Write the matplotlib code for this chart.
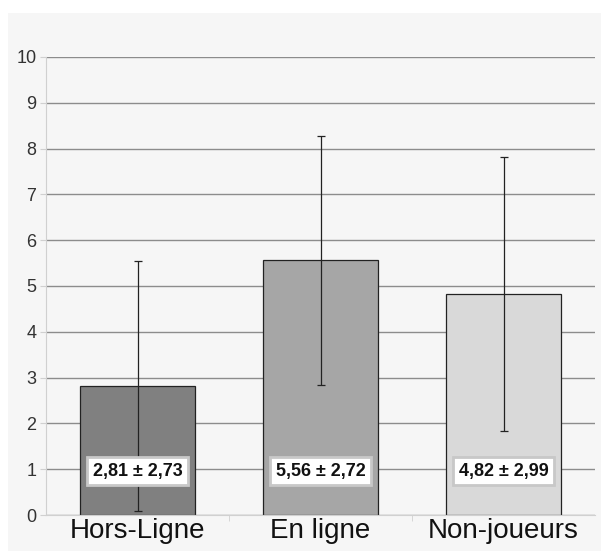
import numpy as np
import matplotlib.pyplot as plt
from matplotlib.patches import Rectangle

# données
groupes = ['Hors-Ligne', 'En ligne', 'Non-joueurs']
moyennes = [2.81, 5.56, 4.82]
ecarts = [2.73, 2.72, 2.99]
etiquettes = ['2,81 ± 2,73', '5,56 ± 2,72', '4,82 ± 2,99']
couleurs = ['#808080', '#a6a6a6', '#d9d9d9']

fig = plt.figure(figsize=(6.01, 5.51), dpi=100)
fig.patch.set_facecolor('white')
fond = Rectangle((8 / 601, 0), 1, 1 - 13 / 551, transform=fig.transFigure,
                 facecolor='#f6f6f6', edgecolor='none', zorder=-10)
fig.add_artist(fond)

ax = fig.add_axes([46 / 601, 36 / 551, 549 / 601, 458 / 551])
ax.set_facecolor('#f6f6f6')

x = np.arange(len(groupes))
ax.bar(x, moyennes, width=0.63, color=couleurs, edgecolor='#222222', linewidth=0.9, zorder=2)
ax.errorbar(x, moyennes, yerr=ecarts, fmt='none', ecolor='#222222', elinewidth=0.9,
            capsize=3, capthick=0.9, zorder=3)

for xi, txt in zip(x, etiquettes):
    ax.text(xi, 0.96, txt, ha='center', va='center', fontsize=13, fontweight='bold',
            family='Liberation Sans', color='#111111', zorder=4,
            bbox=dict(boxstyle='square,pad=0.3', facecolor='white', edgecolor='#c8c8c8', linewidth=2))

ax.set_xlim(-0.5, 2.5)
ax.set_ylim(0, 10)
ax.set_yticks(range(0, 11))
ax.yaxis.grid(True, color='#8c8c8c', linewidth=1)
ax.set_axisbelow(True)

ax.set_xticks(x)
ax.set_xticklabels(groupes, fontsize=20, family='Liberation Sans', color='#111111')
ax.set_xticks([0.5, 1.5], minor=True)
ax.tick_params(axis='x', which='major', length=0, pad=2.5)
ax.tick_params(axis='x', which='minor', length=4, color='#d0d0d0')
ax.tick_params(axis='y', length=4, color='#d0d0d0', labelsize=13, pad=3)
for lab in ax.get_yticklabels():
    lab.set_family('Liberation Sans')
    lab.set_color('#333333')

for s in ['top', 'right']:
    ax.spines[s].set_visible(False)
ax.spines['left'].set_color('#d0d0d0')
ax.spines['bottom'].set_color('#d0d0d0')

fig.savefig('out.png', dpi=100)
